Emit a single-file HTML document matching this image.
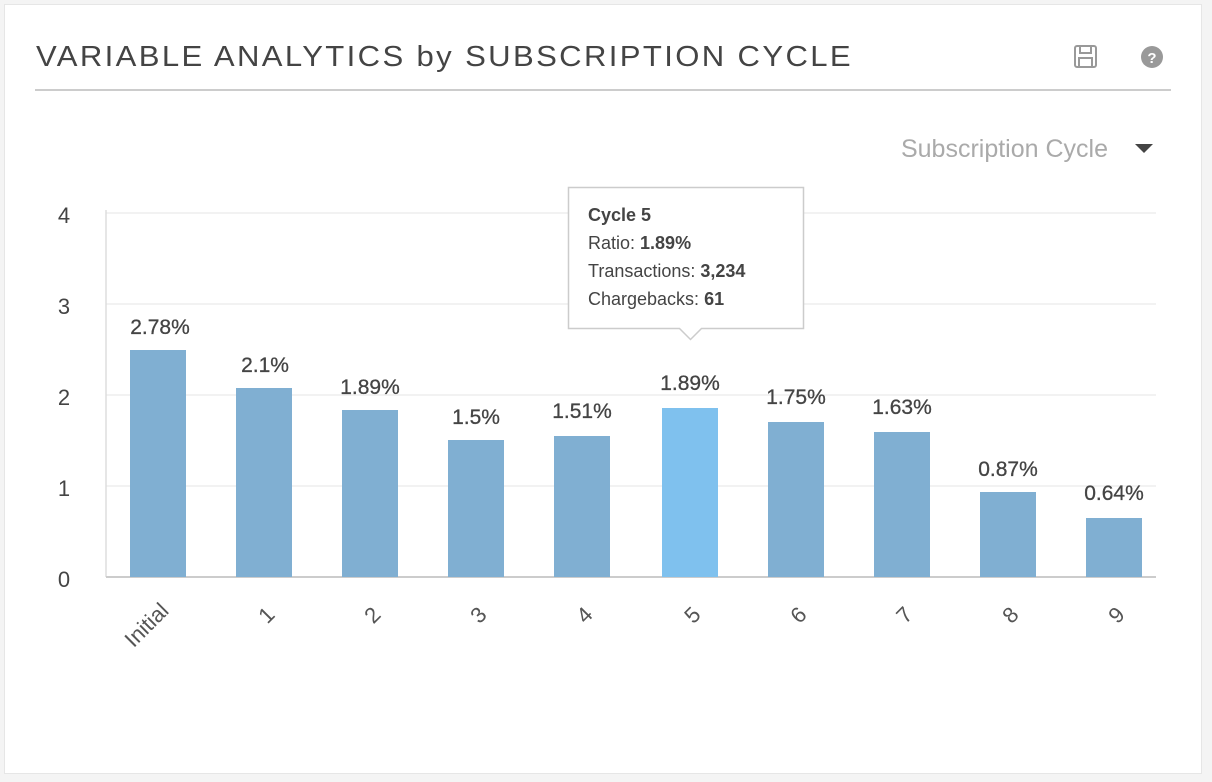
<!DOCTYPE html>
<html><head><style>
body{margin:0;width:1212px;height:782px;background:#f4f4f4;font-family:"Liberation Sans",sans-serif;overflow:hidden}
.card{position:absolute;left:4px;top:4px;width:1196px;height:768px;background:#fff;border:1px solid #e6e6e6}
</style></head><body>
<div class="card"></div>
<svg width="1212" height="782" style="position:absolute;left:0;top:0" font-family="Liberation Sans, sans-serif">
<text x="36" y="66" font-size="29" fill="#444" letter-spacing="2.2" textLength="817" lengthAdjust="spacingAndGlyphs">VARIABLE ANALYTICS by SUBSCRIPTION CYCLE</text>
<line x1="35" y1="90" x2="1171" y2="90" stroke="#ccc" stroke-width="2"/>
<g fill="none" stroke="#999" stroke-width="2"><rect x="1075" y="46" width="21" height="21" rx="2"/><rect x="1080" y="46" width="11" height="7"/><rect x="1079" y="58" width="13" height="9"/></g>
<circle cx="1152" cy="57" r="11" fill="#999"/><text x="1152" y="63" font-size="15" font-weight="bold" fill="#fff" text-anchor="middle">?</text>
<text x="1108" y="157" font-size="25" fill="#aaa" text-anchor="end">Subscription Cycle</text>
<path d="M1135 144h18l-9 9z" fill="#444"/>
<g stroke="#eee" stroke-width="1.5"><line x1="106" y1="213" x2="1156" y2="213"/><line x1="106" y1="304" x2="1156" y2="304"/><line x1="106" y1="395" x2="1156" y2="395"/><line x1="106" y1="486" x2="1156" y2="486"/></g>
<line x1="106" y1="210" x2="106" y2="577" stroke="#ddd" stroke-width="1.5"/>
<line x1="106" y1="577" x2="1156" y2="577" stroke="#ccc" stroke-width="2"/>
<g font-size="22" fill="#444" text-anchor="middle"><text x="64" y="223">4</text><text x="64" y="314">3</text><text x="64" y="405">2</text><text x="64" y="496">1</text><text x="64" y="587">0</text></g>
<g fill="#80afd2">
<rect x="130" y="350" width="56" height="227"/><rect x="236" y="388" width="56" height="189"/><rect x="342" y="410" width="56" height="167"/><rect x="448" y="440" width="56" height="137"/><rect x="554" y="436" width="56" height="141"/><rect x="662" y="408" width="56" height="169" fill="#7fc1ee"/><rect x="768" y="422" width="56" height="155"/><rect x="874" y="432" width="56" height="145"/><rect x="980" y="492" width="56" height="85"/><rect x="1086" y="518" width="56" height="59"/>
</g>
<g font-size="21" fill="#444" text-anchor="middle" stroke="#444" stroke-width="0.3">
<text x="160" y="334">2.78%</text><text x="265" y="372">2.1%</text><text x="370" y="394">1.89%</text><text x="476" y="424">1.5%</text><text x="582" y="418">1.51%</text><text x="690" y="390">1.89%</text><text x="796" y="404">1.75%</text><text x="902" y="414">1.63%</text><text x="1008" y="476">0.87%</text><text x="1114" y="500">0.64%</text>
</g>
<g font-size="22" fill="#555" text-anchor="end">
<text transform="translate(170,612) rotate(-45)">Initial</text>
<text transform="translate(276,616) rotate(-45)">1</text>
<text transform="translate(382,616) rotate(-45)">2</text>
<text transform="translate(488,616) rotate(-45)">3</text>
<text transform="translate(594,616) rotate(-45)">4</text>
<text transform="translate(702,616) rotate(-45)">5</text>
<text transform="translate(808,616) rotate(-45)">6</text>
<text transform="translate(914,616) rotate(-45)">7</text>
<text transform="translate(1020,616) rotate(-45)">8</text>
<text transform="translate(1126,616) rotate(-45)">9</text>
</g>
<path d="M568.5 187.5h235v141h-102l-11 11l-11 -11h-111z" fill="#fff" stroke="#ccc" stroke-width="1.5"/>
<g font-size="18" fill="#444">
<text x="588" y="221" font-weight="bold">Cycle 5</text>
<text x="588" y="249">Ratio: <tspan font-weight="bold">1.89%</tspan></text>
<text x="588" y="277">Transactions: <tspan font-weight="bold">3,234</tspan></text>
<text x="588" y="305">Chargebacks: <tspan font-weight="bold">61</tspan></text>
</g>
</svg>
</body></html>
